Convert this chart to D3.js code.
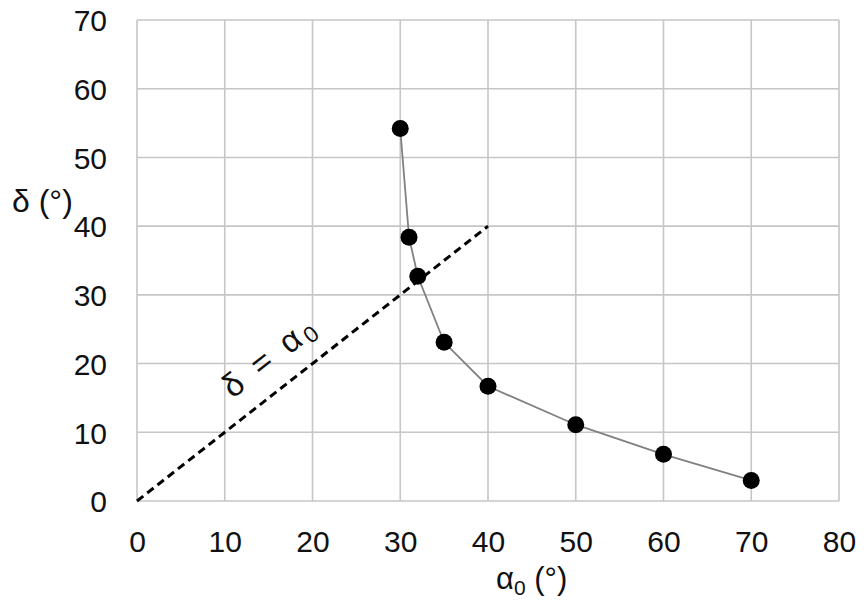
<!DOCTYPE html>
<html><head><meta charset="utf-8">
<script src="https://cdn.jsdelivr.net/npm/d3@7"></script>
<style>
body{margin:0;background:#fff;}
text{font-family:"Liberation Sans",Arial,sans-serif;fill:#111;}
</style></head>
<body><svg id="c" width="866" height="602"></svg>
<script>
const alpha0 = [30, 31, 32, 35, 40, 50, 60, 70];
const delta = [54.2, 38.4, 32.7, 23.1, 16.7, 11.1, 6.8, 3.0];
const xTicks = [0, 10, 20, 30, 40, 50, 60, 70, 80];
const yTicks = [0, 10, 20, 30, 40, 50, 60, 70];
const refLine = [[0, 0], [40, 40]];

const svg = d3.select("#c");
const x = d3.scaleLinear().domain([0, 80]).range([137, 839]);
const y = d3.scaleLinear().domain([0, 70]).range([501, 20]);
const grid = "#c6c6c6";

// grid
svg.append("g").selectAll("line").data(xTicks).join("line")
  .attr("x1", d => x(d)).attr("x2", d => x(d)).attr("y1", y(0)).attr("y2", y(70))
  .attr("stroke", grid).attr("stroke-width", 1.6);
svg.append("g").selectAll("line").data(yTicks).join("line")
  .attr("y1", d => y(d)).attr("y2", d => y(d)).attr("x1", x(0)).attr("x2", x(80))
  .attr("stroke", grid).attr("stroke-width", 1.6);

// axes (labels only)
const xa = svg.append("g").attr("transform", `translate(0,${y(0)})`)
  .call(d3.axisBottom(x).tickValues(xTicks).tickSize(0));
const ya = svg.append("g").attr("transform", `translate(${x(0)},0)`)
  .call(d3.axisLeft(y).tickValues(yTicks).tickSize(0).tickPadding(30));
[xa, ya].forEach(a => {
  a.select(".domain").remove();
  a.selectAll("text").attr("font-size", 30).attr("font-family", '"Liberation Sans",Arial,sans-serif').attr("fill", "#111");
});
xa.selectAll("text").attr("dy", null).attr("y", 51);
ya.selectAll("text").attr("dy", "0.36em");

// reference line delta = alpha0
svg.append("path").datum(refLine)
  .attr("d", d3.line().x(d => x(d[0])).y(d => y(d[1])))
  .attr("stroke", "#000").attr("stroke-width", 3).attr("stroke-dasharray", "8,5").attr("fill", "none");

// series line
const pts = alpha0.map((a, i) => [a, delta[i]]);
svg.append("path").datum(pts)
  .attr("d", d3.line().x(d => x(d[0])).y(d => y(d[1])))
  .attr("stroke", "#808080").attr("stroke-width", 1.8).attr("fill", "none");
svg.append("g").selectAll("circle").data(pts).join("circle")
  .attr("cx", d => x(d[0])).attr("cy", d => y(d[1])).attr("r", 8.5).attr("fill", "#000");

// label on dashed line
const ang = Math.atan2(y(0) - y(40), x(40) - x(0)) * 180 / Math.PI;
const lbl = svg.append("text")
  .attr("transform", `translate(${x(12.4)},${y(12.4)}) rotate(${-ang}) translate(0,-21)`)
  .attr("font-size", 33).attr("letter-spacing", 4).attr("xml:space", "preserve");
lbl.append("tspan").text("δ = α");
lbl.append("tspan").text("0").attr("font-size", 23).attr("dy", 5).attr("letter-spacing", 0);

// axis titles
const yt = svg.append("text").attr("x", 12).attr("y", 212).attr("font-size", 32).text("δ (°)");
const xt = svg.append("text").attr("x", 496).attr("y", 589).attr("font-size", 31);
xt.append("tspan").text("α");
xt.append("tspan").text("0").attr("font-size", 21).attr("dy", 6);
xt.append("tspan").text(" (°)").attr("dy", -6);
</script></body></html>
